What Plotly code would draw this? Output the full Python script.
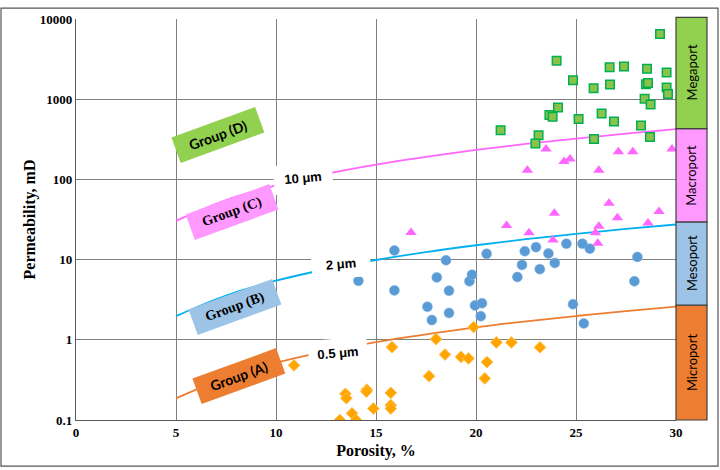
import math
import plotly.graph_objects as go

# ---------------- data ----------------
micro_phi = [10.9, 13.19, 13.47, 13.52, 13.8, 14.0, 14.54, 14.52, 14.87, 15.74, 15.74, 15.74,
             15.8, 17.65, 18.0, 18.45, 19.25, 19.62, 19.88, 20.44, 20.55, 21.02, 21.77, 23.2]
micro_k = [0.48, 0.1, 0.212, 0.187, 0.121, 0.1, 0.239, 0.226, 0.139, 0.218, 0.153, 0.139,
           0.81, 0.352, 1.02, 0.655, 0.612, 0.585, 1.44, 0.33, 0.527, 0.927, 0.927, 0.805]

meso_phi = [14.12, 15.92, 15.92, 17.57, 17.79, 18.04, 18.5, 18.65, 18.65, 19.67, 19.8, 19.95,
            20.3, 20.24, 20.53, 22.07, 22.3, 22.44, 23.0, 23.19, 23.62, 23.94, 24.52, 24.85,
            25.32, 25.39, 25.69, 27.92, 28.07]
meso_k = [5.43, 13.0, 4.13, 2.58, 1.76, 6.0, 9.8, 4.09, 2.16, 5.36, 6.48, 2.68,
          2.86, 1.97, 11.8, 6.07, 8.59, 12.7, 14.3, 7.6, 11.9, 9.08, 15.8, 2.78,
          15.8, 1.6, 13.7, 5.36, 10.8]

macro_phi = [16.75, 21.53, 22.65, 23.85, 23.92, 26.09, 25.97, 26.14, 26.65, 27.07, 28.6, 29.15,
             22.57, 23.5, 24.4, 24.7, 26.14, 27.12, 27.84, 29.8]
macro_k = [21.8, 26.7, 21.6, 17.5, 37.9, 16.0, 21.6, 26.0, 50.3, 33.2, 28.6, 39.7,
           130, 239, 167, 180, 130, 221, 221, 239]

mega_phi = [29.2, 24.03, 24.85, 26.68, 27.4, 28.55, 29.53, 25.88, 26.7, 28.5, 28.6, 29.53,
            29.6, 28.43, 28.73, 24.1, 23.67, 23.83, 25.13, 26.28, 26.9, 28.25, 28.7, 21.23,
            23.13, 22.97, 25.9]
mega_k = [6510, 3020, 1725, 2500, 2550, 2390, 2150, 1370, 1520, 1535, 1590, 1400,
          1160, 1015, 857, 787, 635, 605, 568, 665, 526, 470, 338, 411,
          355, 281, 319]

# pore-throat radius reference lines
curve_phi = [5, 7.5, 10, 12.5, 15, 17.5, 20, 22.5, 25, 27.5, 30]
r05_k = [0.186, 0.338, 0.516, 0.717, 0.936, 1.17, 1.43, 1.70, 1.98, 2.28, 2.59]
r2_k = [1.97, 3.57, 5.45, 7.58, 9.89, 12.4, 15.1, 18.0, 20.9, 24.1, 27.4]
r10_k = [30.4, 55.2, 84.2, 117, 153, 191, 233, 277, 323, 372, 423]

curve_labels = ["0.5 μm", "2 μm", "10 μm"]
curve_label_pos = [(13.1, 0.68), (13.25, 8.8), (11.35, 105)]

group_labels = ["Group (A)", "Group (B)", "Group (C)", "Group (D)"]
group_pos = [(8.15, 0.35), (7.95, 2.55), (7.8, 39.4), (7.1, 355)]

band_names = ["Microport", "Mesoport", "Macroport", "Megaport"]
band_edges = [0.1, 2.7, 29.5, 430, 10500]

x_ticks = [0, 5, 10, 15, 20, 25, 30]
y_ticks = [0.1, 1, 10, 100, 1000, 10000]
y_tick_text = ["0.1", "1", "10", "100", "1000", "10000"]

# ---------------- styles ----------------
SERIF = "Liberation Serif"
SANS = "Lato"
band_colors = ["#ED7D31", "#9DC3E6", "#FF99FF", "#92D050"]
group_colors = ["#ED7D31", "#9DC3E6", "#FF99FF", "#92D050"]
group_fonts = [SANS, SERIF, SERIF, SANS]

fig = go.Figure()

for ks, col in [(r05_k, "#ED7D31"), (r2_k, "#00B0F0"), (r10_k, "#FF66FF")]:
    fig.add_trace(go.Scatter(x=curve_phi, y=ks, mode="lines", line=dict(color=col, width=1.8, shape="spline"),
                             hoverinfo="skip", showlegend=False))

fig.add_trace(go.Scatter(x=micro_phi, y=micro_k, mode="markers", showlegend=False,
                         marker=dict(symbol="diamond", size=9, color="#FFA500",
                                     line=dict(color="#FFC04D", width=1))))
fig.add_trace(go.Scatter(x=meso_phi, y=meso_k, mode="markers", showlegend=False,
                         marker=dict(symbol="circle", size=10, color="#5B9BD5",
                                     line=dict(color="#7FB2E0", width=0.5))))
fig.add_trace(go.Scatter(x=macro_phi, y=macro_k, mode="markers", showlegend=False,
                         marker=dict(symbol="triangle-up", size=10, color="#FF66FF",
                                     line=dict(width=0))))
fig.add_trace(go.Scatter(x=mega_phi, y=mega_k, mode="markers", showlegend=False,
                         marker=dict(symbol="square", size=8.5, color="#8BC34A",
                                     line=dict(color="#00B050", width=1.5))))

annotations = []
for txt, (px, py) in zip(curve_labels, curve_label_pos):
    annotations.append(dict(x=px, y=math.log10(py), xref="x", yref="y", text="<b>" + txt + "</b>",
                            showarrow=False, bgcolor="white", width=56, height=26, textangle=-5,
                            xanchor="center", yanchor="middle",
                            font=dict(family="Liberation Sans", size=13, color="black")))
for txt, (px, py), c, f in zip(group_labels, group_pos, group_colors, group_fonts):
    annotations.append(dict(x=px, y=math.log10(py), xref="x", yref="y", text="<b>" + txt + "</b>",
                            showarrow=False, bgcolor=c, width=86, height=24, textangle=-20,
                            xanchor="center", yanchor="middle",
                            font=dict(family=f, size=14, color="black")))

shapes = []
def ypaper(v):
    return (math.log10(v) + 1) / 5.0

for i, name in enumerate(band_names):
    y0 = ypaper(band_edges[i])
    y1 = ypaper(band_edges[i + 1])
    shapes.append(dict(type="rect", xref="paper", yref="paper", x0=1.0, x1=1.0 + 31 / 600, y0=y0, y1=y1,
                       fillcolor=band_colors[i], line=dict(color="#404040", width=1.2), layer="above"))
    annotations.append(dict(x=1.0 + 15.5 / 600, y=(y0 + y1) / 2, xref="paper", yref="paper", text=name,
                            showarrow=False, textangle=-90, xanchor="center", yanchor="middle",
                            font=dict(family=SANS, size=13, color="black")))

# outer frame
shapes.append(dict(type="rect", xref="paper", yref="paper", x0=(1 - 76) / 600, x1=(718 - 76) / 600,
                   y0=(420 - 467) / 408, y1=(420 - 1) / 408, line=dict(color="#555555", width=1.2),
                   fillcolor="rgba(0,0,0,0)", layer="below"))

fig.update_layout(
    width=720, height=470,
    margin=dict(l=76, r=44, t=12, b=50),
    paper_bgcolor="white", plot_bgcolor="white",
    showlegend=False,
    annotations=annotations,
    shapes=shapes,
)
fig.update_xaxes(range=[0, 30], tickvals=x_ticks, ticktext=["<b>%d</b>" % t for t in x_ticks],
                 showgrid=True, gridcolor="#7F7F7F", gridwidth=1, zeroline=False,
                 showline=True, linecolor="#595959", linewidth=1.2, ticks="",
                 tickfont=dict(family=SERIF, size=13, color="black"),
                 title=dict(text="<b>Porosity, %</b>", font=dict(family=SERIF, size=16, color="black"),
                            standoff=6))
fig.update_yaxes(type="log", range=[-1, 4], tickvals=y_ticks, ticktext=["<b>%s</b>" % t for t in y_tick_text],
                 showgrid=True, gridcolor="#7F7F7F", gridwidth=1, zeroline=False,
                 showline=True, linecolor="#595959", linewidth=1.2, ticks="",
                 tickfont=dict(family=SERIF, size=13, color="black"),
                 title=dict(text="<b>Permeability, mD</b>", font=dict(family=SERIF, size=16, color="black"),
                            standoff=0))

fig.write_html("out.html")
